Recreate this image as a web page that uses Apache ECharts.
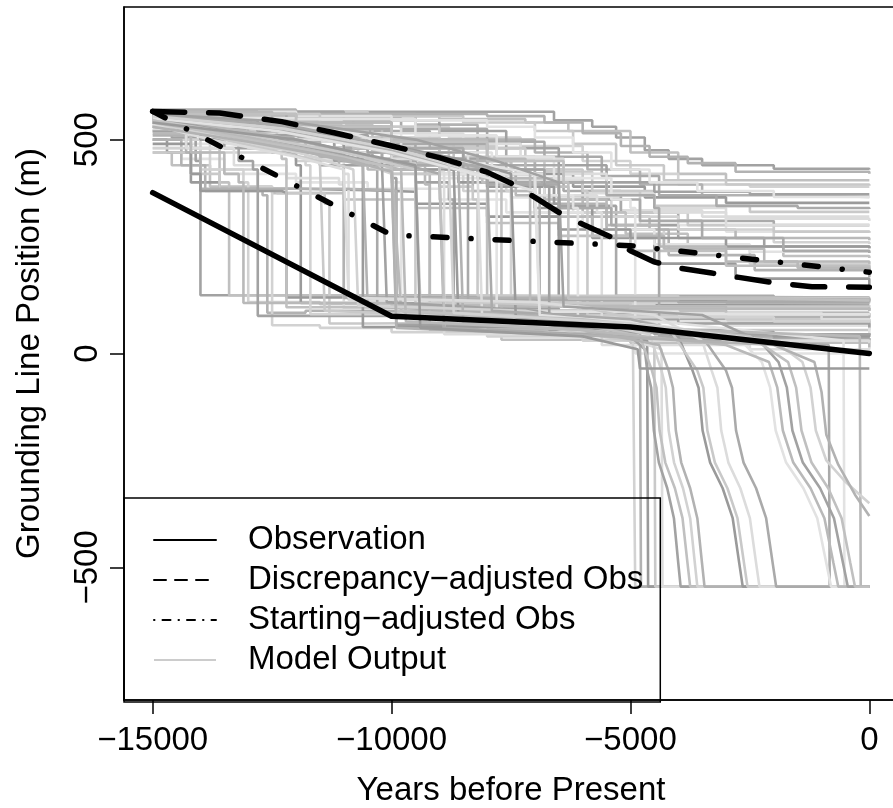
<!DOCTYPE html>
<html><head><meta charset="utf-8">
<script src="https://cdn.jsdelivr.net/npm/echarts@6/dist/echarts.min.js"></script>
<style>html,body{margin:0;padding:0;background:#fff}#c{width:893px;height:808px}</style>
</head><body><div id="c"></div>
<script>
const FONT = '"Liberation Sans", Arial, Helvetica, sans-serif';
const FS = 33;
const xTicks = [-15000, -10000, -5000, 0];
const yTicks = [-500, 0, 500];
const obsYears = [-15000, -10000, -5000, 0];
const observation = [376, 87, 62, 0];
const startingAdjusted = [566, 277, 252, 190];
const discYears = [-15000,-13600,-12300,-11200,-10100,-9000,-8000,-7500,-7000,-6500,-6000,-5400,-5000,-4500,-4000,-3300,-2100,-1200,0];
const discrepancyAdjusted = [566,562,542,516,488,458,424,398,365,330,302,272,240,214,200,188,167,156,155];

// model runs that stay in the upper band (drawn as staircases)
const upperRuns = [
 [[-15000,565],[-7000,565],[-6600,545],[-5800,530],[-5300,505],[-4700,475],[-4200,455],[-3500,440],[-2000,432],[0,430]],
 [[-15000,560],[-12500,555],[-9000,548],[-7200,540],[-6300,520],[-5000,470],[-4000,420],[-3000,405],[0,405]],
 [[-15000,555],[-13800,540],[-11000,530],[-8800,505],[-7300,485],[-6000,450],[-5000,420],[-4000,395],[-2500,390],[0,390]],
 [[-15000,570],[-12000,560],[-9500,535],[-8200,500],[-7000,470],[-5900,430],[-4800,395],[-3500,370],[-1500,366],[0,366]],
 [[-15000,545],[-14300,520],[-12800,505],[-10500,480],[-9000,455],[-7500,420],[-6200,390],[-4700,365],[-3000,352],[0,352]],
 [[-15000,560],[-13000,545],[-11500,525],[-10000,500],[-8500,460],[-7000,410],[-6000,380],[-4500,345],[-2500,331],[0,331]],
 [[-15000,535],[-14500,510],[-13000,495],[-11000,470],[-9500,440],[-8000,400],[-6800,365],[-5200,335],[-3500,320],[0,319]],
 [[-15000,565],[-12800,548],[-10800,520],[-9200,480],[-7600,430],[-6400,380],[-5200,330],[-4000,310],[-2000,300],[0,300]],
 [[-15000,520],[-14200,490],[-12500,470],[-10800,445],[-9000,410],[-7500,365],[-6200,330],[-4800,300],[-3000,285],[0,282]],
 [[-15000,560],[-13500,540],[-11800,500],[-10000,460],[-8800,420],[-7400,370],[-6000,320],[-4600,290],[-2800,270],[0,265]],
 [[-15000,550],[-13200,525],[-11000,490],[-9500,455],[-8000,400],[-6500,345],[-5300,300],[-4000,270],[-2200,250],[0,246]],
 [[-15000,565],[-12200,535],[-10400,500],[-8800,450],[-7500,390],[-6300,330],[-5100,280],[-3800,250],[-1800,228],[0,223]],
 [[-15000,500],[-14000,470],[-12000,450],[-10000,420],[-8500,380],[-7000,330],[-5800,290],[-4300,250],[-2500,210],[0,195]],
 [[-15000,560],[-13000,530],[-11500,505],[-9800,470],[-8200,420],[-6800,350],[-5500,290],[-4200,230],[-2400,195],[0,178]],
 [[-15000,540],[-13800,510],[-12000,480],[-10200,440],[-8600,400],[-7000,340],[-5800,270],[-4500,210],[-2800,175],[0,155]],
 [[-15000,565],[-10500,555],[-8500,540],[-7000,520],[-6200,490],[-5300,440],[-4300,405],[-3000,395],[0,392]],
 [[-15000,530],[-14000,500],[-13000,480],[-11500,455],[-9800,430],[-8000,405],[-6000,375],[-4500,340],[-3000,315],[0,310]],
 [[-15000,560],[-12000,550],[-9800,525],[-8000,495],[-6800,460],[-5600,415],[-4400,370],[-3200,345],[-1500,340],[0,338]],
 [[-15000,480],[-14400,455],[-13500,420],[-12000,400],[-10500,385],[-9000,360],[-7600,330],[-6000,290],[-4500,255],[-2500,238],[0,235]],
 [[-15000,555],[-13000,520],[-11200,480],[-9600,430],[-8300,380],[-7000,320],[-5800,275],[-4300,245],[-2200,215],[0,210]],
 [[-15000,565],[-11000,545],[-9000,520],[-7600,480],[-6500,440],[-5500,400],[-4500,378],[-2500,372],[0,372]],
 [[-15000,470],[-14600,440],[-13800,390],[-12500,375],[-11000,360],[-9500,340],[-8000,305],[-6500,275],[-5000,240],[-3000,205],[0,188]],
 [[-15000,545],[-14000,525],[-12300,500],[-10700,470],[-9200,440],[-7800,400],[-6600,360],[-5400,320],[-4000,290],[-2000,260],[0,256]],
 [[-15000,565],[-14000,560],[-8000,555],[-6800,540],[-6000,515],[-5200,485],[-4600,460],[-3800,445],[-2800,425],[0,420]],
 [[-15000,500],[-14700,470],[-14200,400],[-13600,385],[-12000,382],[-10500,378],[-9500,350],[-8000,320],[-6500,290],[-5000,270],[-3000,250],[0,246]],
 [[-15000,560],[-13500,545],[-12000,525],[-10500,505],[-9000,485],[-7800,460],[-6800,425],[-5800,380],[-4800,330],[-3800,300],[-2000,285],[0,282]],
 [[-15000,565],[-14000,555],[-12800,540],[-11000,530],[-9800,515],[-8500,490],[-7300,455],[-6400,420],[-5500,370],[-4500,330],[-3000,300],[0,300]],
 [[-15000,545],[-14200,525],[-13000,505],[-11800,480],[-10200,455],[-8800,430],[-7400,400],[-6000,360],[-4800,310],[-3500,270],[-1800,240],[0,235]],
 [[-15000,560],[-12000,555],[-10000,545],[-8000,530],[-7000,505],[-6200,470],[-5400,430],[-4600,400],[-3600,380],[-2000,366],[0,366]],
 [[-15000,540],[-14500,515],[-13200,490],[-11500,470],[-10000,445],[-8200,410],[-6800,360],[-5500,300],[-4400,250],[-3000,215],[-1500,200],[0,195]]
];

// model runs that retreat abruptly onto the lower shelf (staircases)
const floorRuns = [
 [[-15000,540],[-14600,505],[-14100,450],[-14000,136],[-11800,136],[-10000,133],[-5000,131],[0,131]],
 [[-15000,520],[-14200,480],[-13600,400],[-13400,136],[-10500,132],[-6000,128],[0,120]],
 [[-15000,555],[-14300,500],[-13800,430],[-13100,400],[-13000,120],[-11500,115],[-9000,110],[-6000,108],[0,108]],
 [[-15000,500],[-14400,440],[-13900,380],[-12700,370],[-12600,95],[-11800,100],[-10000,95],[-7000,90],[-4000,85],[0,94]],
 [[-15000,560],[-13800,520],[-12500,470],[-12000,440],[-11900,118],[-9800,115],[-7000,113],[0,113]],
 [[-15000,470],[-14200,420],[-13600,385],[-12400,375],[-11400,350],[-11300,70],[-10500,72],[-8000,65],[-5000,55],[0,61]],
 [[-15000,545],[-13000,500],[-11800,460],[-11000,420],[-10900,125],[-9000,120],[-6000,118],[0,124]],
 [[-15000,560],[-12600,530],[-11000,480],[-10400,440],[-10300,100],[-8000,95],[-5000,80],[-2000,78],[0,77]],
 [[-15000,535],[-13500,490],[-11500,440],[-10000,400],[-9800,90],[-7000,85],[-4000,70],[0,47]],
 [[-15000,565],[-12000,520],[-10500,470],[-9300,420],[-9200,128],[-6000,122],[0,131]],
 [[-15000,540],[-13200,500],[-11200,450],[-9500,400],[-8800,360],[-8700,105],[-6500,100],[-3000,95],[0,94]],
 [[-15000,560],[-12500,530],[-10200,490],[-8700,440],[-8100,400],[-8000,60],[-5500,52],[-2500,35],[0,31]],
 [[-15000,550],[-13000,520],[-10800,470],[-9000,420],[-7600,380],[-7500,115],[-4500,108],[0,108]],
 [[-15000,565],[-12000,540],[-10000,500],[-8200,450],[-7000,400],[-6900,80],[-4000,72],[0,77]],
 [[-15000,530],[-14000,500],[-12000,470],[-10000,430],[-8000,390],[-6600,350],[-6500,125],[-3000,120],[0,120]],
 [[-15000,560],[-11500,530],[-9000,480],[-7200,430],[-6000,380],[-5900,90],[-3000,80],[0,61]],
 [[-15000,545],[-12800,515],[-10500,470],[-8400,420],[-6800,370],[-5700,330],[-5600,20],[-2500,10],[0,14]],
 [[-15000,555],[-13500,520],[-11800,480],[-9600,440],[-8000,395],[-6500,340],[-5400,300],[-5300,135],[-2000,130],[0,131]],
 [[-15000,565],[-12000,548],[-9500,510],[-7800,460],[-6600,410],[-5400,360],[-5000,340],[-4900,0],[0,0]],
 [[-15000,540],[-14000,510],[-12000,470],[-10500,430],[-9300,395],[-9200,55],[-6000,48],[-3000,30],[0,14]],
 [[-15000,520],[-13500,480],[-11500,440],[-10000,410],[-9900,67],[-7000,60],[-4500,45],[0,47]],
 [[-15000,560],[-12500,520],[-10800,480],[-9000,435],[-7800,400],[-7700,32],[-5000,25],[0,31]],
 [[-15000,480],[-14000,430],[-12800,390],[-12500,66],[-11500,60],[-10000,50],[-8000,40],[-6000,30],[0,25]],
 [[-15000,510],[-14300,470],[-14000,385],[-11000,382],[-10000,380],[-9900,112],[-6000,105],[0,100]],
 [[-15000,490],[-14200,420],[-14000,380],[-12300,376],[-12200,131],[-9000,128],[0,128]],
 [[-15000,555],[-13800,520],[-12400,480],[-11000,450],[-10000,420],[-9000,390],[-8300,360],[-8200,135],[-4000,130],[0,131]],
 [[-15000,525],[-14300,480],[-13300,440],[-12200,410],[-11100,395],[-11000,105],[-8000,100],[-4000,95],[-1000,80],[0,77]],
 [[-15000,560],[-12000,530],[-10000,490],[-8000,440],[-6500,400],[-5500,370],[-4500,340],[-4400,40],[-2000,35],[0,31]],
 [[-15000,545],[-13000,510],[-11000,470],[-9000,420],[-7000,370],[-6200,340],[-6100,75],[-3000,65],[0,61]],
 [[-15000,515],[-14200,470],[-13500,420],[-13200,400],[-13100,118],[-10000,112],[-5000,105],[0,100]],
 [[-15000,550],[-14000,500],[-13200,450],[-12900,430],[-12800,88],[-9000,80],[-4000,70],[0,61]],
 [[-15000,560],[-13500,510],[-12500,470],[-12300,455],[-12200,108],[-8000,100],[-3000,92],[0,94]],
 [[-15000,530],[-13000,480],[-11800,440],[-11700,92],[-7000,85],[-2000,75],[0,77]],
 [[-15000,545],[-13000,495],[-11500,460],[-11100,440],[-11000,130],[-6000,126],[0,124]],
 [[-15000,565],[-12800,520],[-11000,470],[-10700,455],[-10600,62],[-6000,50],[-2000,40],[0,47]],
 [[-15000,555],[-12500,520],[-10500,470],[-9600,445],[-9500,118],[-5000,110],[0,113]],
 [[-15000,540],[-12000,500],[-10000,455],[-9000,425],[-8900,45],[-5000,30],[0,25]],
 [[-15000,560],[-12200,525],[-10000,480],[-8500,440],[-8400,125],[-4000,120],[0,120]],
 [[-15000,550],[-12000,515],[-9800,470],[-7900,430],[-7800,98],[-4000,92],[0,94]],
 [[-15000,565],[-12500,540],[-10000,500],[-8000,455],[-7200,430],[-7100,110],[-3000,104],[0,108]],
 [[-15000,545],[-12800,510],[-10500,470],[-8500,430],[-6800,390],[-6700,55],[-3000,45],[0,47]],
 [[-15000,560],[-12000,530],[-10000,495],[-8000,450],[-6400,400],[-6300,128],[-2000,124],[0,124]]
];

// model runs that collapse to the deep floor late in the run
const collapseRuns = [
 [[-15000,555],[-13000,510],[-11000,460],[-10000,420],[-9900,90],[-7000,70],[-4950,40],[-4900,-545],[0,-545]],
 [[-15000,530],[-12500,490],[-10600,440],[-10500,110],[-7500,95],[-4800,60],[-4780,-545],[0,-545]],
 [[-15000,560],[-12000,520],[-9000,455],[-8700,430],[-8600,80],[-6000,60],[-4650,30],[-4630,-545],[0,-545]],
 [[-15000,545],[-13500,500],[-11500,450],[-11400,100],[-8000,85],[-4500,20],[-4480,-545],[0,-545]],
 [[-15000,555],[-11800,515],[-9800,470],[-8200,420],[-8100,70],[-5500,50],[-4350,10],[-4330,-545],[0,-545]],
 [[-15000,540],[-12000,500],[-10000,450],[-9000,420],[-8900,60],[-5000,40],[-850,20],[-830,-545],[0,-545]],
 [[-15000,560],[-11000,520],[-9500,470],[-7000,420],[-6900,90],[-4000,70],[-540,30],[-520,-545],[0,-545]],
 [[-15000,550],[-12500,510],[-10000,450],[-9800,100],[-5000,60],[-200,40],[-180,-545],[0,-545]],
 [[-15000,550],[-13200,515],[-11200,470],[-10200,440],[-10100,120],[-7000,100],[-5200,60],[-4700,10],[-4650,-40],[-4566,-80],[-4510,-180],[-4405,-255],[-4230,-315],[-4090,-385],[-3999,-490],[-3950,-545],[0,-545]],
 [[-15000,560],[-12800,530],[-10500,480],[-9000,440],[-8900,95],[-6500,80],[-4800,40],[-4550,-40],[-4454,-80],[-4390,-180],[-4270,-255],[-4070,-315],[-3910,-385],[-3806,-490],[-3750,-545],[0,-545]],
 [[-15000,540],[-13500,505],[-11800,465],[-10800,430],[-10700,112],[-7200,100],[-4600,45],[-4350,-40],[-4260,-80],[-4200,-180],[-4087,-255],[-3900,-315],[-3750,-385],[-3652,-490],[-3600,-545],[0,-545]],
 [[-15000,555],[-12300,520],[-10000,475],[-8600,430],[-8500,70],[-6000,55],[-4400,20],[-4200,-40],[-4110,-80],[-4050,-180],[-3937,-255],[-3750,-315],[-3600,-385],[-3502,-490],[-3450,-545],[0,-545]],
 [[-15000,560],[-12500,535],[-10200,490],[-8400,450],[-7500,420],[-7400,85],[-5000,70],[-4000,40],[-3700,-40],[-3574,-80],[-3490,-180],[-3332,-255],[-3070,-315],[-2860,-385],[-2723,-490],[-2650,-545],[0,-545]],
 [[-15000,545],[-13000,510],[-11000,470],[-9500,430],[-9400,125],[-6000,110],[-4200,60],[-3600,-40],[-3474,-80],[-3390,-180],[-3232,-255],[-2970,-315],[-2760,-385],[-2623,-490],[-2550,-545],[0,-545]],
 [[-15000,535],[-13800,500],[-12000,460],[-11000,430],[-10900,130],[-7000,120],[-4500,90],[-3500,30],[-3300,-40],[-3180,-80],[-3100,-180],[-2950,-255],[-2700,-315],[-2500,-385],[-2370,-490],[-2300,-545],[0,-545]],
 [[-15000,560],[-12000,530],[-9800,480],[-8000,430],[-7900,100],[-5000,80],[-3500,40],[-3000,-40],[-2874,-80],[-2790,-180],[-2632,-255],[-2370,-315],[-2160,-385],[-2023,-490],[-1950,-545],[0,-545]],
 [[-15000,550],[-12400,520],[-10000,470],[-8300,420],[-7000,380],[-6900,90],[-4000,60],[-2600,20],[-2250,-20],[-2076,-80],[-1960,-180],[-1742,-255],[-1380,-315],[-1090,-385],[-901,-490],[-800,-545],[0,-545]],
 [[-15000,540],[-13000,505],[-11000,460],[-9800,430],[-9700,75],[-6000,55],[-3000,20],[-2100,-20],[-1926,-80],[-1810,-180],[-1592,-255],[-1230,-315],[-940,-385],[-751,-490],[-650,-545],[0,-545]],
 [[-15000,560],[-12000,540],[-9500,500],[-7800,450],[-6500,400],[-6400,110],[-3500,90],[-2300,30],[-1900,-20],[-1726,-80],[-1610,-180],[-1392,-255],[-1030,-315],[-740,-385],[-551,-490],[-450,-545],[0,-545]],
 [[-15000,545],[-13500,510],[-11500,470],[-10000,435],[-9900,100],[-6000,80],[-2500,40],[-1700,-20],[-1532,-80],[-1420,-180],[-1210,-255],[-860,-315],[-580,-385],[-398,-490],[-300,-545],[0,-545]],
 [[-15000,555],[-12200,525],[-10000,480],[-8800,445],[-8700,95],[-5000,70],[-2000,30],[-1400,-20],[-1230,-80],[-1120,-180],[-900,-250],[-500,-300],[-200,-330],[0,-350]],
 [[-15000,530],[-13000,495],[-11000,455],[-10000,425],[-9900,60],[-5500,40],[-2000,20],[-1150,-20],[-1000,-90],[-900,-190],[-650,-260],[-300,-330],[0,-380]],
 [[-15000,540],[-12000,500],[-9500,440],[-9400,60],[-6000,40],[-4850,10],[-4800,-35],[0,-35]]
];

const grays = ['#a2a2a2','#c0c0c0','#d2d2d2','#b2b2b2','#9a9a9a','#c9c9c9','#dcdcdc','#aaaaaa','#e2e2e2','#b9b9b9'];
const MODEL = 'Model Output';
const OBS = 'Observation';
const DISC = 'Discrepancy\u2212adjusted Obs';
const START = 'Starting\u2212adjusted Obs';

const series = [];
let k = 0;
function addRun(run, step) {
  series.push({
    name: MODEL, type: 'line', data: run, step: step ? 'end' : false,
    symbol: 'none', showSymbol: false, silent: true, z: 2,
    itemStyle: { color: grays[k % grays.length] },
    lineStyle: { width: 2.6, color: grays[k % grays.length] }
  });
  k++;
}
upperRuns.forEach(r => addRun(r, true));
floorRuns.forEach(r => addRun(r, true));
collapseRuns.forEach(r => addRun(r, false));

series.push({
  name: OBS, type: 'line', data: obsYears.map((x, i) => [x, observation[i]]),
  symbol: 'none', silent: true, z: 5, itemStyle: { color: '#000' },
  lineStyle: { width: 5.5, color: '#000', cap: 'round', join: 'round' }
});
series.push({
  name: DISC, type: 'line', data: discYears.map((x, i) => [x, discrepancyAdjusted[i]]),
  symbol: 'none', silent: true, z: 5, itemStyle: { color: '#000' },
  lineStyle: { width: 5.5, color: '#000', type: [32, 24], cap: 'round', join: 'round' }
});
series.push({
  name: START, type: 'line', data: obsYears.map((x, i) => [x, startingAdjusted[i]]),
  symbol: 'none', silent: true, z: 5, itemStyle: { color: '#000' },
  lineStyle: { width: 5.5, color: '#000', type: [14, 24, 0.1, 24], cap: 'round', join: 'round' }
});

const minus = v => String(v).replace('-', '\u2212');
const chart = echarts.init(document.getElementById('c'), null, { renderer: 'canvas' });
chart.setOption({
  animation: false,
  backgroundColor: '#fff',
  grid: { left: 124, top: 7, right: -5, bottom: 108, show: true, borderColor: '#000', borderWidth: 1.5,
          containLabel: false, outerBoundsMode: 'none' },
  xAxis: {
    type: 'value', min: -15600, max: 600,
    name: 'Years before Present', nameLocation: 'middle', nameGap: 74,
    nameTextStyle: { fontFamily: FONT, fontSize: FS, color: '#000' },
    axisLine: { show: true, onZero: false, lineStyle: { color: '#000', width: 1.5 } },
    axisTick: { show: true, length: 14, customValues: xTicks, lineStyle: { color: '#000', width: 1.5 } },
    axisLabel: { customValues: xTicks, formatter: minus, margin: 24, fontFamily: FONT, fontSize: FS, color: '#000' },
    splitLine: { show: false }
  },
  yAxis: {
    type: 'value', min: -810, max: 810,
    name: 'Grounding Line Position (m)', nameLocation: 'middle', nameGap: 78,
    nameTextStyle: { fontFamily: FONT, fontSize: FS, color: '#000' },
    axisLine: { show: true, onZero: false, lineStyle: { color: '#000', width: 1.5 } },
    axisTick: { show: true, length: 14, customValues: yTicks, lineStyle: { color: '#000', width: 1.5 } },
    axisLabel: { customValues: yTicks, formatter: minus, rotate: 90, margin: 20, fontFamily: FONT, fontSize: FS, color: '#000' },
    splitLine: { show: false }
  },
  legend: {
    orient: 'vertical', left: 124, top: 498, padding: [22, 17, 22, 29],
    borderColor: '#000', borderWidth: 1.5, backgroundColor: 'transparent',
    itemWidth: 62, itemHeight: 14, itemGap: 0, selectedMode: false,
    itemStyle: { opacity: 0 },
    textStyle: { fontFamily: FONT, fontSize: FS, color: '#000', lineHeight: 40, padding: [0, 0, 0, 27] },
    lineStyle: { width: 2 },
    data: [
      { name: OBS, itemStyle: { opacity: 0 }, lineStyle: { width: 2, color: '#000', type: 'solid' } },
      { name: DISC, itemStyle: { opacity: 0 }, lineStyle: { width: 2, color: '#000', type: [12, 9] } },
      { name: START, itemStyle: { opacity: 0 }, lineStyle: { width: 2, color: '#000', type: [0.5, 8, 8, 8] } },
      { name: MODEL, itemStyle: { opacity: 0 }, lineStyle: { width: 2, color: '#cccccc', type: 'solid' } }
    ]
  },
  series: series
});
</script></body></html>
